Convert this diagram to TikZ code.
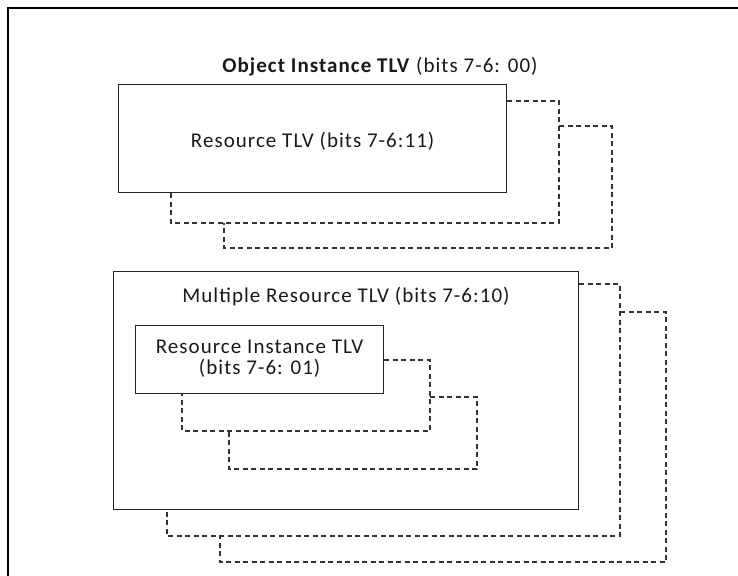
\documentclass[tikz,border=0pt]{standalone}
\usepackage{fontspec}
\setmainfont{Carlito}[LetterSpace=5]
\begin{document}
\begin{tikzpicture}[x=1pt,y=-1pt,
  frame/.style={draw=black, line width=2pt},
  solidbox/.style={draw=black!85, line width=1.3pt, inner sep=0pt, anchor=north west},
  shadow/.style={draw=black!80, line width=1.1pt, dash pattern=on 5pt off 3.5pt},
  lbl/.style={font=\fontsize{21}{21}\selectfont, inner sep=0pt, align=center, text=black!90}]
\useasboundingbox (0,0) rectangle (738,575);
\draw[frame] (8,576) -- (8,8) -- (739,8);
% Object instance title
\node[lbl] (otitle) at (380,67) {\textbf{Object Instance TLV} (bits 7-6: 00)};
% Resource TLV group
\node[solidbox, minimum width=388pt, minimum height=108pt] (rtlv) at (118,84) {};
\node[lbl] (rtlvtext) at (rtlv.center) [yshift=-3pt] {Resource TLV (bits 7-6:11)};
\draw[shadow] (rtlv.east |- 0,101) -| (559,223) -| (rtlv.south -| 171,0);
\draw[shadow] (559,126) -| (612,248) -| (224,223);
% Multiple resource group
\node[solidbox, minimum width=465pt, minimum height=238pt] (mrtlv) at (113,271) {};
\node[lbl] (mrtext) at (346,297) {Multiple Resource TLV (bits 7-6:10)};
\draw[shadow] (mrtlv.east |- 0,284) -| (620,536) -| (mrtlv.south -| 167,0);
\draw[shadow] (620,312) -| (666,562) -| (220,536);
% Resource instance group
\node[solidbox, minimum width=248pt, minimum height=68pt] (ritlv) at (135,325) {};
\node[lbl] (ritext) at (ritlv.center) [yshift=1pt] {Resource Instance TLV\\(bits 7-6: 01)};
\draw[shadow] (ritlv.east |- 0,360) -| (430,431) -| (ritlv.south -| 182,0);
\draw[shadow] (430,397) -| (477,469) -| (229,431);
\end{tikzpicture}
\end{document}
